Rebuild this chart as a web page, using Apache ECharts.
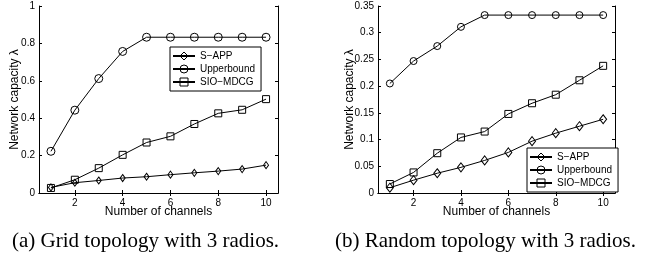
<!DOCTYPE html>
<html>
<head>
<meta charset="utf-8">
<script src="https://cdn.jsdelivr.net/npm/echarts@6/dist/echarts.min.js"></script>
<style>
  html, body { margin: 0; padding: 0; background: #fff; }
  #wrap { position: relative; width: 647px; height: 261px; }
  #chart-a { position: absolute; left: 0; top: 0; width: 323px; height: 261px; }
  #chart-b { position: absolute; left: 323px; top: 0; width: 324px; height: 261px; }
</style>
</head>
<body>
<div id="wrap">
  <div id="chart-a"></div>
  <div id="chart-b"></div>
</div>
<script>
// 数据
var channels = [1, 2, 3, 4, 5, 6, 7, 8, 9, 10];
var xTicks = [2, 4, 6, 8, 10];
var seriesNames = ['S\u2212APP', 'Upperbound', 'SIO\u2212MDCG'];

// (a) grid topology
var gridSapp  = [0.030, 0.055, 0.067, 0.080, 0.087, 0.098, 0.108, 0.117, 0.128, 0.149];
var gridUpper = [0.223, 0.443, 0.612, 0.757, 0.833, 0.833, 0.833, 0.833, 0.833, 0.833];
var gridSio   = [0.027, 0.071, 0.133, 0.204, 0.270, 0.303, 0.369, 0.426, 0.445, 0.502];

// (b) random topology
var randSapp  = [0.0099, 0.024, 0.037, 0.048, 0.061, 0.076, 0.097, 0.112, 0.125, 0.138];
var randUpper = [0.205, 0.247, 0.275, 0.311, 0.333, 0.333, 0.333, 0.333, 0.333, 0.333];
var randSio   = [0.0168, 0.0385, 0.0745, 0.104, 0.115, 0.148, 0.168, 0.184, 0.211, 0.238];

var captions = ['(a) Grid topology with 3 radios.', '(b) Random topology with 3 radios.'];

var sans = 'Liberation Sans';
var serif = 'Liberation Serif';

function pairs(ys) {
  return channels.map(function (c, i) { return [c, ys[i]]; });
}

function lineSeries(name, ys, symbol, size) {
  return {
    type: 'line',
    name: name,
    data: pairs(ys),
    symbol: symbol,
    symbolSize: size,
    showAllSymbol: true,
    lineStyle: { color: '#000', width: 1 },
    itemStyle: { color: 'rgba(255,255,255,0)', borderColor: '#000', borderWidth: 1 },
    emphasis: { disabled: true },
    animation: false,
    z: 3
  };
}

function makeOption(cfg) {
  var tick = { show: true, inside: true, length: 3, lineStyle: { color: '#000' } };
  return {
    animation: false,
    title: {
      text: cfg.caption,
      left: cfg.capLeft,
      top: 231,
      padding: 0,
      textStyle: { fontFamily: serif, fontSize: 21, fontWeight: 'normal', color: '#000' }
    },
    grid: { left: cfg.left, right: cfg.right, top: 6, bottom: 68, outerBoundsMode: 'none', containLabel: false },
    legend: {
      data: seriesNames,
      orient: 'vertical',
      left: cfg.legLeft,
      top: cfg.legTop,
      selectedMode: false,
      backgroundColor: '#fff',
      borderColor: '#000',
      borderWidth: 1,
      borderRadius: 0,
      padding: [4, 6, 4, 2],
      itemWidth: 22,
      itemHeight: 10,
      itemGap: 3,
      itemStyle: { color: 'rgba(255,255,255,0)', borderColor: '#000', borderWidth: 1 },
      textStyle: { fontFamily: sans, fontSize: 10, lineHeight: 10, color: '#000' }
    },
    xAxis: [
      {
        type: 'value', min: 0.5, max: 10.5,
        name: 'Number of channels', nameLocation: 'middle', nameGap: 13, nameMoveOverlap: false,
        nameTextStyle: { fontFamily: sans, fontSize: 12, color: '#000' },
        axisLine: { show: true, lineStyle: { color: '#000', width: 1 } },
        axisTick: Object.assign({ customValues: xTicks }, tick),
        axisLabel: { customValues: xTicks, fontFamily: sans, fontSize: 10, color: '#000', margin: 5 },
        splitLine: { show: false }
      },
      {
        type: 'value', min: 0.5, max: 10.5, position: 'top',
        axisLine: { show: true, lineStyle: { color: '#000', width: 1 } },
        axisTick: Object.assign({ customValues: xTicks }, tick),
        axisLabel: { show: false },
        splitLine: { show: false }
      }
    ],
    yAxis: [
      {
        type: 'value', min: 0, max: cfg.yMax, interval: cfg.yStep,
        name: 'Network capacity \u03bb', nameLocation: 'middle', nameGap: cfg.nameGap, nameMoveOverlap: false,
        nameTextStyle: { fontFamily: sans, fontSize: 12, color: '#000' },
        axisLine: { show: true, lineStyle: { color: '#000', width: 1 } },
        axisTick: tick,
        axisLabel: { fontFamily: sans, fontSize: 10, color: '#000', margin: 4 },
        splitLine: { show: false }
      },
      {
        type: 'value', min: 0, max: cfg.yMax, interval: cfg.yStep, position: 'right',
        axisLine: { show: true, lineStyle: { color: '#000', width: 1 } },
        axisTick: tick,
        axisLabel: { show: false },
        splitLine: { show: false }
      }
    ],
    series: [
      lineSeries(seriesNames[0], cfg.sapp, 'diamond', cfg.dSize),
      lineSeries(seriesNames[1], cfg.upper, 'circle', cfg.cSize),
      lineSeries(seriesNames[2], cfg.sio, 'rect', cfg.sSize)
    ]
  };
}

var chartA = echarts.init(document.getElementById('chart-a'), null, { renderer: 'canvas' });
chartA.setOption(makeOption({
  caption: captions[0], capLeft: 12,
  left: 39, right: 45, yMax: 1, yStep: 0.2, nameGap: 18,
  legLeft: 170, legTop: 47,
  sapp: gridSapp, upper: gridUpper, sio: gridSio,
  dSize: [5, 7], cSize: 8, sSize: 7
}));

var chartB = echarts.init(document.getElementById('chart-b'), null, { renderer: 'canvas' });
chartB.setOption(makeOption({
  caption: captions[1], capLeft: 12,
  left: 55, right: 32, yMax: 0.35, yStep: 0.05, nameGap: 22,
  legLeft: 204, legTop: 148,
  sapp: randSapp, upper: randUpper, sio: randSio,
  dSize: [7, 9], cSize: 7, sSize: 7
}));

window.addEventListener('resize', function () { chartA.resize(); chartB.resize(); });
</script>
</body>
</html>
